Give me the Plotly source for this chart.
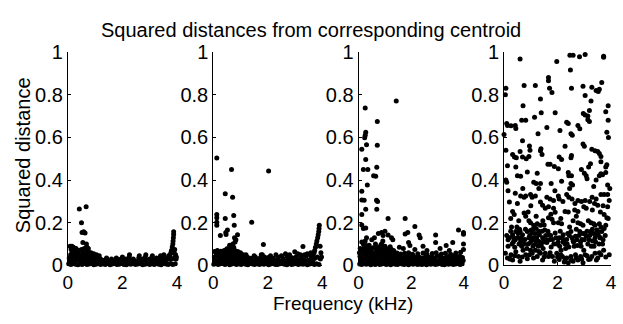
import plotly.graph_objects as go

# ---------------- data (frequency kHz, squared distance) ----------------
# Panel 1
p1_band_f = [0.03,0.11,0.2,0.28,0.37,0.45,0.52,0.61,0.7,0.78,0.86,0.95,1.03,1.12,1.2,1.29,1.37,1.46,1.55,1.63,1.71,1.8,1.88,1.97,2.06,2.14,2.23,2.31,2.4,2.48,2.57,2.66,2.74,2.83,2.91,3.0,3.08,3.17,3.25,3.34,3.42,3.51,3.6,3.68,3.77,3.85,3.94,
             0.07,0.16,0.24,0.33,0.41,0.49,0.57,0.66,0.74,0.83,0.91,1.0,1.08,1.16,1.25,1.33,1.42,1.5,1.59,1.67,1.76,1.84,1.93,2.01,2.1,2.19,2.27,2.36,2.44,2.53,2.61,2.7,2.79,2.87,2.96,3.04,3.13,3.21,3.3,3.38,3.47,3.56,3.64,3.73,3.81,3.9,3.98]
p1_band_d = [0.008,0.004,0.01,0.006,0.003,0.009,0.005,0.011,0.004,0.007,0.01,0.003,0.006,0.009,0.004,0.008,0.005,0.01,0.003,0.007,0.009,0.004,0.006,0.01,0.005,0.003,0.008,0.006,0.01,0.004,0.007,0.009,0.003,0.006,0.01,0.005,0.008,0.004,0.009,0.006,0.003,0.01,0.007,0.005,0.009,0.004,0.008,
             0.022,0.026,0.019,0.028,0.024,0.02,0.027,0.023,0.018,0.025,0.021,0.02,0.016,0.022,0.018,0.024,0.015,0.02,0.017,0.023,0.016,0.021,0.019,0.025,0.017,0.02,0.023,0.016,0.022,0.018,0.024,0.017,0.021,0.025,0.019,0.022,0.016,0.024,0.02,0.018,0.026,0.021,0.028,0.032,0.03,0.035,0.04]
p1_upper = [(0.08,0.09),(0.12,0.075),(0.2,0.085),(0.25,0.065),(0.3,0.08),(0.35,0.06),(0.4,0.07),(0.45,0.05),(0.5,0.075),(0.55,0.06),
            (0.6,0.08),(0.65,0.055),(0.7,0.07),(0.75,0.065),(0.8,0.05),(0.85,0.06),(0.9,0.045),(0.95,0.055),(1.0,0.04),(1.05,0.05),
            (1.1,0.035),(1.15,0.045),(0.1,0.05),(0.18,0.04),(0.27,0.045),(0.33,0.035),(0.42,0.04),(0.48,0.03),(0.58,0.04),(0.68,0.035),
            (0.78,0.04),(0.88,0.03),(0.98,0.03),(0.05,0.035),(0.15,0.06),(0.22,0.055),(0.38,0.05),(0.62,0.045),(0.72,0.05),(0.83,0.035),(0.93,0.04),
            (0.42,0.265),(0.67,0.275),(0.5,0.2),(0.52,0.155),(0.58,0.158),(0.63,0.152),(0.55,0.108),(0.68,0.1),(0.7,0.085),(0.75,0.08),(0.15,0.09),(0.25,0.08),
            (3.88,0.158),(3.88,0.145),(3.87,0.13),(3.86,0.115),(3.85,0.1),(3.83,0.087),(3.8,0.07),(3.78,0.06),(3.75,0.05),(3.7,0.045),(3.92,0.075),(3.95,0.05),(3.9,0.06),(3.97,0.03),(3.65,0.035),
            (1.42,0.035),(1.4,0.028),(1.78,0.035),(1.76,0.03),(2.26,0.05),(2.25,0.04),(2.62,0.045),(2.6,0.035),(2.86,0.05),(2.84,0.04),(3.1,0.045),(3.08,0.035),
            (3.4,0.045),(3.38,0.035),(3.52,0.05),(3.5,0.04),(1.2,0.03),(1.6,0.03),(2.0,0.04),(1.98,0.03),(2.4,0.03),(3.25,0.035),(3.0,0.03),(2.75,0.03),(2.12,0.03),(1.88,0.028)]

# Panel 2
p2_band_f = [0.02,0.1,0.18,0.27,0.35,0.43,0.52,0.6,0.68,0.77,0.85,0.93,1.02,1.1,1.19,1.27,1.35,1.44,1.52,1.61,1.69,1.77,1.86,1.94,2.03,2.11,2.19,2.28,2.36,2.45,2.53,2.61,2.7,2.78,2.87,2.95,3.03,3.12,3.2,3.29,3.37,3.45,3.54,3.62,3.71,3.79,3.88,
             0.06,0.14,0.23,0.31,0.39,0.48,0.56,0.64,0.73,0.81,0.89,0.98,1.06,1.15,1.23,1.31,1.4,1.48,1.57,1.65,1.73,1.82,1.9,1.99,2.07,2.15,2.24,2.32,2.41,2.49,2.57,2.66,2.74,2.83,2.91,2.99,3.08,3.16,3.25,3.33,3.41,3.5,3.58,3.66,3.74,3.82,3.93,
             0.04,0.12,0.2,0.29,0.37,0.45,0.54,0.62,0.7,0.79,0.87,0.95,1.08,1.25,1.38,1.55,1.72,1.88,2.02,2.2,2.38,2.55,2.72,2.9,3.05,3.22,3.4,3.55]
p2_band_d = [0.006,0.01,0.004,0.008,0.011,0.005,0.009,0.003,0.007,0.01,0.005,0.008,0.004,0.009,0.006,0.003,0.01,0.007,0.005,0.009,0.004,0.008,0.006,0.01,0.003,0.007,0.009,0.005,0.004,0.008,0.01,0.006,0.003,0.009,0.005,0.007,0.01,0.004,0.008,0.006,0.009,0.003,0.007,0.01,0.005,0.008,0.004,
             0.024,0.02,0.027,0.022,0.029,0.025,0.021,0.028,0.023,0.026,0.02,0.024,0.019,0.025,0.021,0.018,0.024,0.02,0.026,0.019,0.022,0.025,0.018,0.023,0.02,0.026,0.019,0.024,0.021,0.018,0.025,0.02,0.023,0.027,0.019,0.022,0.026,0.02,0.024,0.028,0.021,0.026,0.03,0.024,0.035,0.04,0.03,
             0.04,0.045,0.038,0.042,0.047,0.04,0.044,0.036,0.046,0.041,0.038,0.043,0.036,0.04,0.034,0.038,0.035,0.04,0.037,0.034,0.039,0.035,0.04,0.036,0.042,0.038,0.044,0.05]
p2_upper = [(0.05,0.065),(0.1,0.06),(0.15,0.07),(0.22,0.058),(0.28,0.066),(0.33,0.06),(0.4,0.07),(0.46,0.055),(0.5,0.078),(0.55,0.065),
            (0.6,0.095),(0.62,0.09),(0.66,0.075),(0.7,0.06),(0.75,0.085),(0.8,0.07),(0.85,0.058),(0.9,0.065),(0.95,0.055),(1.0,0.06),
            (1.1,0.05),(0.3,0.05),(0.58,0.055),(0.72,0.1),(0.8,0.11),
            (0.13,0.504),(0.67,0.45),(2.03,0.442),(0.44,0.336),(0.71,0.319),(0.13,0.239),(0.13,0.224),(0.13,0.202),(0.13,0.188),(0.44,0.22),
            (0.75,0.234),(0.77,0.188),(1.41,0.202),(0.26,0.14),(0.46,0.155),(0.47,0.145),(0.89,0.144),(0.83,0.12),(1.84,0.098),(3.29,0.089),
            (2.99,0.064),(1.76,0.05),(0.52,0.166),(0.78,0.13),
            (3.89,0.188),(3.88,0.173),(3.87,0.159),(3.85,0.144),(3.83,0.13),(3.8,0.115),(3.78,0.1),(3.75,0.085),(3.72,0.07),(3.7,0.06),
            (3.66,0.05),(3.62,0.045),(3.92,0.09),(3.95,0.06),(3.97,0.04),(3.58,0.06),(3.45,0.055),(3.35,0.05),
            (1.2,0.05),(1.5,0.045),(1.8,0.05),(2.1,0.045),(2.3,0.05),(2.5,0.045),(2.65,0.055),(2.8,0.05),(3.1,0.055),(3.2,0.05)]

# Panel 3
p3_band_f = [0.04,0.12,0.2,0.29,0.37,0.46,0.54,0.63,0.71,0.8,0.88,0.97,1.05,1.14,1.22,1.31,1.39,1.48,1.56,1.65,1.73,1.82,1.9,1.99,2.07,2.16,2.24,2.33,2.41,2.5,2.58,2.67,2.75,2.84,2.92,3.01,3.09,3.18,3.26,3.35,3.43,3.52,3.6,3.69,3.77,3.86,3.94,
             0.08,0.16,0.25,0.33,0.42,0.5,0.58,0.67,0.75,0.84,0.92,1.01,1.09,1.18,1.26,1.35,1.43,1.52,1.6,1.69,1.77,1.86,1.94,2.03,2.11,2.2,2.28,2.37,2.45,2.54,2.62,2.71,2.79,2.88,2.96,3.05,3.13,3.22,3.3,3.39,3.47,3.56,3.64,3.73,3.81,3.9,3.98,
             0.05,0.14,0.22,0.31,0.39,0.48,0.56,0.65,0.73,0.82,0.9,0.99,1.07,1.16,1.24,1.33,1.41,1.5,1.58,1.67,1.75,1.84,1.92,2.01,2.09,2.18,2.3,2.42,2.55,2.66,2.78,2.9,3.0,3.12,3.25,3.36,3.48,3.6,3.72,3.85,3.95,
             0.03,0.1,0.18,0.27,0.35,0.44,0.52,0.6,0.69,0.77,0.86,0.94,1.03,1.11,1.2,1.28,1.37,1.46,1.6,1.75,1.9,2.05,2.25,2.45,2.6,2.8,2.95,3.15,3.3,3.5,3.7,3.88]
p3_band_d = [0.007,0.004,0.01,0.006,0.009,0.003,0.008,0.005,0.011,0.004,0.007,0.01,0.005,0.008,0.003,0.009,0.006,0.004,0.01,0.007,0.005,0.008,0.003,0.009,0.006,0.01,0.004,0.007,0.005,0.009,0.003,0.008,0.006,0.01,0.004,0.007,0.009,0.005,0.003,0.008,0.006,0.01,0.004,0.007,0.009,0.005,0.008,
             0.024,0.02,0.027,0.022,0.026,0.019,0.025,0.021,0.028,0.023,0.02,0.026,0.022,0.018,0.025,0.021,0.027,0.019,0.023,0.026,0.02,0.024,0.022,0.019,0.027,0.021,0.025,0.018,0.023,0.026,0.02,0.024,0.021,0.027,0.019,0.023,0.025,0.02,0.026,0.022,0.018,0.024,0.027,0.021,0.025,0.02,0.023,
             0.042,0.038,0.045,0.04,0.036,0.044,0.039,0.046,0.041,0.037,0.043,0.04,0.045,0.038,0.042,0.036,0.044,0.039,0.041,0.035,0.043,0.038,0.04,0.036,0.042,0.037,0.04,0.035,0.043,0.038,0.041,0.036,0.044,0.039,0.035,0.042,0.038,0.045,0.04,0.043,0.037,
             0.06,0.065,0.058,0.063,0.057,0.066,0.06,0.055,0.064,0.058,0.062,0.056,0.061,0.057,0.063,0.055,0.06,0.058,0.054,0.057,0.06,0.052,0.055,0.058,0.053,0.056,0.06,0.054,0.057,0.052,0.058,0.062]
p3_upper = [(0.06,0.08),(0.14,0.075),(0.22,0.085),(0.3,0.078),(0.38,0.082),(0.47,0.076),(0.55,0.083),(0.62,0.079),(0.7,0.085),(0.79,0.077),
            (0.88,0.08),(0.97,0.074),(1.06,0.078),(1.15,0.072),(1.24,0.076),(1.33,0.07),(0.18,0.1),(0.4,0.095),(0.64,0.1),(0.84,0.095),
            (1.0,0.09),(1.2,0.088),(0.12,0.11),(0.5,0.12),(0.92,0.115),
            (0.25,0.738),(1.43,0.77),(0.71,0.675),(0.27,0.624),(0.25,0.61),(0.23,0.598),(0.3,0.566),(0.71,0.563),(0.12,0.544),(0.27,0.496),
            (0.18,0.45),(0.35,0.45),(0.69,0.46),(0.57,0.42),(0.65,0.418),(0.33,0.377),(0.12,0.348),(0.12,0.307),(0.21,0.305),(0.68,0.305),
            (0.72,0.3),(0.27,0.263),(0.69,0.263),(0.12,0.239),(1.12,0.22),(1.77,0.22),(2.14,0.183),(0.12,0.19),(0.18,0.173),(0.27,0.176),
            (0.3,0.13),(0.75,0.15),(0.87,0.155),(1.0,0.16),(0.93,0.14),(1.12,0.143),(1.25,0.13),(1.77,0.147),(1.87,0.155),(2.3,0.143),
            (2.34,0.13),(2.93,0.143),(3.8,0.166),(3.99,0.155),(3.99,0.146),(3.33,0.093),(3.58,0.108),(2.93,0.108),(1.9,0.108),(1.95,0.093),
            (1.55,0.085),(0.25,0.115),(0.28,0.093),(0.87,0.1),(3.99,0.1),(3.99,0.075),(2.14,0.075),(1.3,0.12),(0.6,0.13),(2.6,0.07),
            (3.1,0.08),(3.45,0.07),(2.45,0.09),(1.7,0.08)]

# Panel 4
p4_points = [(0.6,0.967),(1.97,0.956),(2.46,0.985),(2.58,0.985),(2.82,0.978),(3.03,0.988),(3.72,0.98),(3.72,0.975),(2.48,0.916),
             (1.66,0.88),(1.66,0.865),(1.7,0.83),(1.79,0.81),(0.07,0.83),(0.05,0.8),(0.75,0.843),(1.17,0.843),(2.52,0.83),(2.95,0.84),
             (3.28,0.835),(3.44,0.82),(3.56,0.825),(3.65,0.857),(3.52,0.815),(1.36,0.78),(3.03,0.796),(3.25,0.77),(0.71,0.748),(3.89,0.748),
             (1.39,0.715),(1.91,0.715),(2.96,0.712),(3.03,0.705),(3.13,0.7),(3.19,0.726),(3.8,0.72),(1.14,0.694),(0.66,0.68),(0.81,0.68),
             (2.34,0.671),(2.4,0.665),(3.13,0.683),(3.19,0.675),(3.89,0.68),(0.1,0.665),(0.13,0.656),(0.26,0.654),(0.42,0.656),(0.44,0.642),
             (1.6,0.646),(2.76,0.656),(2.83,0.64),(2.09,0.632),(2.5,0.617),(2.55,0.61),(3.84,0.624),(0.0,0.613),(1.27,0.617),(0.69,0.584),
             (3.9,0.6),(2.95,0.569),(3.0,0.559),(0.07,0.54),(0.6,0.534),(0.95,0.56),(0.97,0.54),(1.38,0.547),(1.36,0.537),(2.28,0.559),
             (3.28,0.544),(3.4,0.537),(3.5,0.534),(3.56,0.525),(3.62,0.511),(2.52,0.515),(2.5,0.505),(0.39,0.508),(0.46,0.505),(0.32,0.52),
             (0.69,0.508),(0.83,0.5),(0.93,0.51),(1.42,0.52),(2.06,0.508),(2.15,0.496),(3.62,0.486),(0.13,0.467),(0.44,0.461),(1.64,0.474),
             (1.72,0.474),(1.88,0.464),(2.03,0.453),(3.23,0.476),(3.16,0.461),(3.84,0.472),(3.8,0.461),(2.89,0.45),(0.5,0.42),(0.62,0.418),
             (0.87,0.438),(1.24,0.432),(2.4,0.435),(2.42,0.42),(2.52,0.42),(3.0,0.432),(3.07,0.42),(3.1,0.406),(3.62,0.43),(3.56,0.42),
             (3.68,0.425),(3.8,0.435),(0.07,0.4),(0.1,0.39),(1.11,0.39),(1.2,0.384),(1.36,0.384),(1.76,0.384),(2.15,0.394),(2.5,0.384),
             (2.56,0.377),(3.44,0.4),(3.87,0.377),(0.42,0.338),(0.62,0.326),(0.75,0.319),(0.81,0.326),(0.99,0.333),(1.05,0.319),(1.17,0.326),
             (1.6,0.319),(1.72,0.311),(1.85,0.304),(2.03,0.326),(2.06,0.311),(2.34,0.333),(2.42,0.319),(2.54,0.311),(2.76,0.304),(2.89,0.3),
             (3.03,0.304),(3.29,0.319),(3.44,0.311),(3.62,0.333),(3.74,0.333),(3.87,0.333),(3.93,0.304),(0.2,0.297),(1.36,0.297),(1.44,0.282),
             (2.98,0.275),(3.07,0.268),(3.38,0.29),(3.5,0.282),(3.87,0.275),(0.32,0.253),(0.38,0.239),(0.75,0.246),(0.81,0.231),(1.54,0.268),
             (1.66,0.275),(1.85,0.268),(1.91,0.249),(2.28,0.253),(2.64,0.26),(2.76,0.253),(3.74,0.239),(3.84,0.224),(3.89,0.22),(0.93,0.21),
             (0.99,0.2),(1.11,0.188),(1.24,0.195),(1.36,0.188),(1.66,0.224),(1.79,0.217),(1.85,0.2),(2.03,0.2),(2.15,0.195),(2.76,0.2),
             (2.86,0.195),(2.95,0.188),(3.25,0.2),(3.35,0.195),(3.4,0.188),(3.56,0.195),(3.62,0.18),(3.8,0.188),
             (0.2,0.13),(0.32,0.144),(0.44,0.159),(0.5,0.13),(0.62,0.115),(0.56,0.1),(0.69,0.144),(0.78,0.122),(0.87,0.159),(0.93,0.13),
             (0.99,0.108),(1.05,0.152),(1.11,0.13),(1.17,0.1),(1.2,0.173),(1.27,0.115),(1.32,0.144),(1.39,0.093),(1.44,0.13),(1.52,0.166),
             (1.6,0.108),(1.69,0.144),(1.76,0.086),(1.81,0.122),(1.91,0.152),(1.97,0.1),(2.06,0.13),(2.13,0.071),(2.21,0.144),(2.28,0.1),
             (2.34,0.122),(2.42,0.086),(2.5,0.159),(2.58,0.115),(2.67,0.137),(2.74,0.093),(2.83,0.159),(2.91,0.122),(2.98,0.071),(3.07,0.137),
             (3.13,0.1),(3.23,0.159),(3.31,0.115),(3.4,0.13),(3.47,0.166),(3.52,0.144),(3.6,0.13),(3.65,0.159),(3.74,0.173),
             (0.05,0.057),(0.13,0.035),(0.26,0.05),(0.32,0.025),(0.44,0.064),(0.54,0.042),(0.6,0.02),(0.71,0.071),(0.81,0.05),(0.87,0.031),
             (0.99,0.071),(1.05,0.057),(1.17,0.071),(1.24,0.042),(1.36,0.057),(1.44,0.025),(1.54,0.057),(1.66,0.042),(1.81,0.042),(1.88,0.02),
             (1.97,0.057),(2.06,0.028),(2.18,0.042),(2.25,0.016),(2.34,0.035),(2.4,0.013),(2.5,0.042),(2.58,0.02),(2.67,0.05),(2.76,0.025),
             (2.86,0.042),(2.95,0.013),(3.03,0.05),(3.16,0.028),(3.28,0.042),(3.4,0.057),(3.5,0.035),(3.62,0.05),(3.72,0.071),(3.93,0.05),
             (0.35,0.11),(0.4,0.085),(0.66,0.09),(0.74,0.1),(0.85,0.08),(1.0,0.165),(1.08,0.09),(1.14,0.12),(1.3,0.16),(1.48,0.11),
             (1.56,0.14),(1.7,0.12),(2.1,0.16),(2.2,0.11),(2.38,0.15),(2.62,0.09),(2.7,0.17),(2.88,0.09),(3.02,0.15),(3.18,0.12),
             (3.36,0.09),(3.44,0.15),(3.55,0.1),(3.7,0.12),(0.28,0.18),(0.58,0.17),(1.5,0.19),(2.45,0.18),(3.3,0.17),(0.15,0.09),
             (0.1,0.14),(0.15,0.12),(0.25,0.16),(0.3,0.1),(0.36,0.13),(0.42,0.12),(0.48,0.18),(0.53,0.15),(0.6,0.16),(0.64,0.13),
             (0.72,0.11),(0.8,0.17),(0.9,0.1),(0.96,0.14),(1.02,0.12),(1.08,0.17),(1.16,0.15),(1.22,0.13),(1.28,0.09),(1.34,0.11),
             (1.42,0.16),(1.46,0.08),(1.58,0.12),(1.64,0.16),(1.74,0.14),(1.86,0.1),(1.94,0.13),(2.02,0.11),(2.08,0.09),(2.16,0.13),
             (2.24,0.12),(2.3,0.08),(2.36,0.1),(2.44,0.14),(2.54,0.13),(2.6,0.11),(2.72,0.12),(2.8,0.14),(2.86,0.11),(2.94,0.15),
             (3.0,0.12),(3.1,0.16),(3.2,0.14),(3.26,0.09),(3.34,0.15),(3.42,0.11),(3.5,0.16),(3.58,0.13),(3.68,0.1),(3.78,0.14),
             (0.22,0.03),(0.4,0.045),(0.68,0.04),(0.95,0.05),(1.1,0.035),(1.3,0.065),(1.5,0.04),(1.72,0.06),(2.0,0.04),(2.12,0.05),
             (2.28,0.03),(2.52,0.025),(2.7,0.035),(2.9,0.03),(3.1,0.045),(3.22,0.03),(3.45,0.025),(3.56,0.06),(3.8,0.04),
             (0.25,0.22),(0.55,0.21),(0.9,0.25),(1.2,0.23),(1.45,0.21),(1.75,0.24),(2.12,0.22),(2.4,0.25),(2.58,0.21),(2.7,0.23),
             (3.15,0.21),(3.3,0.26),(3.6,0.25),(0.5,0.29),(1.0,0.28),(2.2,0.3),(2.65,0.29),(3.2,0.3),(3.7,0.28),(0.15,0.35),
             (0.7,0.36),(1.3,0.36),(1.9,0.35),(2.45,0.36),(3.35,0.37),(3.95,0.36)]

x_ticks = [0, 2, 4]
x_tick_labels = ["0", "2", "4"]
y_ticks = [0, 0.2, 0.4, 0.6, 0.8, 1]
y_tick_labels = ["0", "0.2", "0.4", "0.6", "0.8", "1"]

title_text = "Squared distances from corresponding centroid"
xlabel_text = "Frequency (kHz)"
ylabel_text = "Squared distance"

# ---------------- assemble ----------------
def unzip(pairs):
    return [p[0] for p in pairs], [p[1] for p in pairs]

u1f, u1d = unzip(p1_upper)
u2f, u2d = unzip(p2_upper)
u3f, u3d = unzip(p3_upper)
u4f, u4d = unzip(p4_points)
panels = [
    (p1_band_f + u1f, p1_band_d + u1d),
    (p2_band_f + u2f, p2_band_d + u2d),
    (p3_band_f + u3f, p3_band_d + u3d),
    (u4f, u4d),
]

W, H = 623, 324
x_px = [(64, 175), (212, 323), (360, 467), (508, 617)]
y_top, y_bot = 44, 273
FONT = "Liberation Sans, Arial, sans-serif"
FS = 20
FSX = 19

fig = go.Figure()
for i, (fx, dy) in enumerate(panels):
    n = "" if i == 0 else str(i + 1)
    fig.add_trace(go.Scatter(
        x=fx, y=dy, mode="markers", xaxis="x" + n, yaxis="y" + n,
        marker=dict(color="black", size=5, line=dict(width=0)),
        cliponaxis=False, showlegend=False, hoverinfo="skip"))
    ax = dict(domain=[x_px[i][0] / W, x_px[i][1] / W], range=[0, 4],
              tickvals=x_ticks, ticktext=x_tick_labels,
              showline=True, linecolor="black", linewidth=1,
              ticks="inside", ticklen=3, tickcolor="black",
              showgrid=False, zeroline=False, fixedrange=True,
              anchor="y" + n, tickfont=dict(family=FONT, size=FSX, color="black"))
    ay = dict(domain=[1 - y_bot / H, 1 - y_top / H], range=[0, 1],
              tickvals=y_ticks, ticktext=y_tick_labels,
              showline=True, linecolor="black", linewidth=1,
              ticks="inside", ticklen=3, tickcolor="black",
              showgrid=False, zeroline=False, fixedrange=True,
              anchor="x" + n, tickfont=dict(family=FONT, size=FS, color="black"))
    fig.layout["xaxis" + n] = ax
    fig.layout["yaxis" + n] = ay

fig.update_layout(
    width=W, height=H, margin=dict(l=0, r=0, t=0, b=0),
    paper_bgcolor="white", plot_bgcolor="white",
    font=dict(family=FONT, size=FS, color="black"),
    hovermode=False,
    annotations=[
        dict(text=title_text, x=311.5 / W, y=1 - 20 / H, xref="paper", yref="paper",
             xanchor="center", yanchor="middle", showarrow=False,
             font=dict(family=FONT, size=FS, color="black")),
        dict(text=xlabel_text, x=344 / W, y=1 - 313.5 / H, xref="paper", yref="paper",
             xanchor="center", yanchor="middle", showarrow=False, borderpad=0,
             font=dict(family=FONT, size=FSX, color="black")),
        dict(text=ylabel_text, x=19 / W, y=1 - 155 / H, xref="paper", yref="paper",
             xanchor="center", yanchor="middle", showarrow=False, textangle=-90,
             font=dict(family=FONT, size=FS, color="black")),
    ],
)

fig.write_html("out.html", config={"displayModeBar": False, "staticPlot": True},
               post_script="document.body.style.margin='0';document.body.style.padding='0';")
